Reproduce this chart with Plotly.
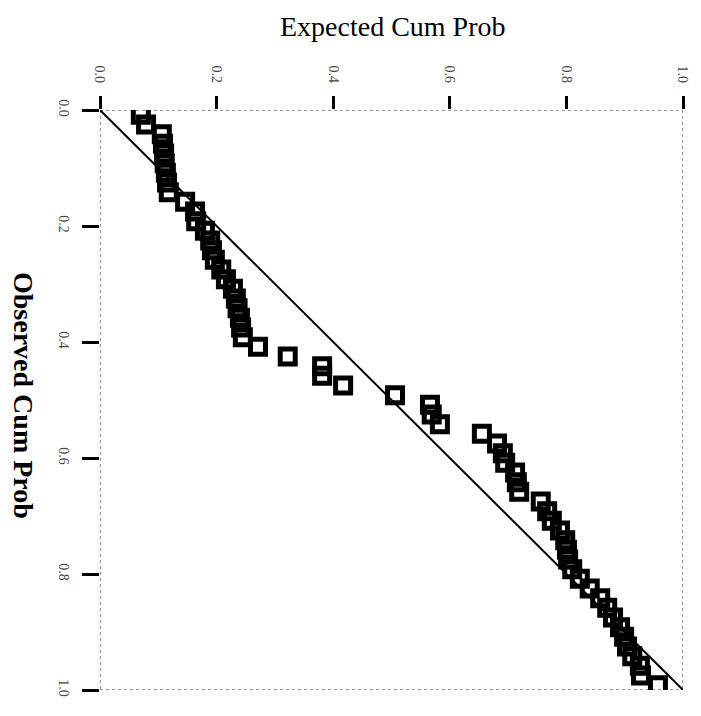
import plotly.graph_objects as go

# Expected cumulative probability (horizontal, top axis)
expected = [0.070, 0.079, 0.106, 0.108, 0.110, 0.111, 0.113, 0.115, 0.118, 0.146,
            0.163, 0.165, 0.180, 0.189, 0.192, 0.197, 0.208, 0.216, 0.228, 0.233,
            0.236, 0.240, 0.242, 0.245, 0.271, 0.322, 0.381, 0.381, 0.417, 0.506,
            0.566, 0.569, 0.583, 0.655, 0.681, 0.691, 0.695, 0.712, 0.715, 0.719,
            0.756, 0.767, 0.775, 0.789, 0.798, 0.801, 0.803, 0.810, 0.823, 0.840,
            0.858, 0.870, 0.880, 0.892, 0.899, 0.904, 0.913, 0.926, 0.928, 0.957]
# Observed cumulative probability (vertical, left axis, increasing downward)
observed = [0.008, 0.025, 0.042, 0.058, 0.075, 0.092, 0.108, 0.125, 0.142, 0.158,
            0.175, 0.192, 0.208, 0.225, 0.242, 0.258, 0.275, 0.292, 0.308, 0.325,
            0.342, 0.358, 0.375, 0.392, 0.408, 0.425, 0.442, 0.458, 0.475, 0.492,
            0.508, 0.525, 0.542, 0.558, 0.575, 0.592, 0.608, 0.625, 0.642, 0.658,
            0.675, 0.692, 0.708, 0.725, 0.742, 0.758, 0.775, 0.792, 0.808, 0.825,
            0.842, 0.858, 0.875, 0.892, 0.908, 0.925, 0.942, 0.958, 0.975, 0.992]
ref_line = [0.0, 1.0]
tick_vals = [0.0, 0.2, 0.4, 0.6, 0.8, 1.0]
tick_text = ["0.0", "0.2", "0.4", "0.6", "0.8", "1.0"]

SERIF = "Liberation Serif, Times New Roman, serif"

fig = go.Figure()
fig.add_trace(go.Scatter(x=ref_line, y=ref_line, mode="lines",
                         line=dict(color="black", width=2), showlegend=False,
                         hoverinfo="skip"))
fig.add_trace(go.Scatter(x=expected, y=observed, mode="markers",
                         marker=dict(symbol="square-open", size=15, color="black",
                                     line=dict(color="black", width=5)),
                         showlegend=False))

# dotted frame
for x0, y0, x1, y1 in [(0, 0, 1, 0), (0, 1, 1, 1), (0, 0, 0, 1), (1, 0, 1, 1)]:
    fig.add_shape(type="line", xref="x", yref="y", x0=x0, y0=y0, x1=x1, y1=y1,
                  line=dict(color="#333", width=1, dash="dot"), layer="below")

fig.update_layout(
    width=701, height=716,
    margin=dict(l=92, r=26, t=102, b=34),
    paper_bgcolor="white", plot_bgcolor="white",
    font=dict(family=SERIF, color="black"),
    xaxis=dict(range=[0, 1], side="top", showgrid=False, zeroline=False,
               showline=False, ticks="outside", ticklen=13, tickwidth=2.5,
               tickcolor="black", tickvals=tick_vals, ticktext=tick_text,
               tickangle=90, tickfont=dict(family=SERIF, size=14, color="#444"),
               ticklabelstandoff=8),
    yaxis=dict(range=[1, 0], showgrid=False, zeroline=False, showline=False,
               ticks="outside", ticklen=17, tickwidth=2.5, tickcolor="black",
               tickvals=tick_vals, ticktext=tick_text, tickangle=90,
               tickfont=dict(family=SERIF, size=14, color="#444"),
               ticklabelstandoff=6),
    annotations=[
        dict(text="Expected Cum Prob", x=0.5, y=1, xref="paper", yref="paper",
             xanchor="center", yanchor="middle", yshift=84, xshift=1, showarrow=False,
             font=dict(family=SERIF, size=28, color="black")),
        dict(text="<b>Observed Cum Prob</b>", x=0, y=0.5, xref="paper", yref="paper",
             xanchor="center", yanchor="middle", xshift=-76, yshift=5, showarrow=False,
             textangle=90, font=dict(family=SERIF, size=28, color="black")),
    ],
)

fig.write_html("out.html")
